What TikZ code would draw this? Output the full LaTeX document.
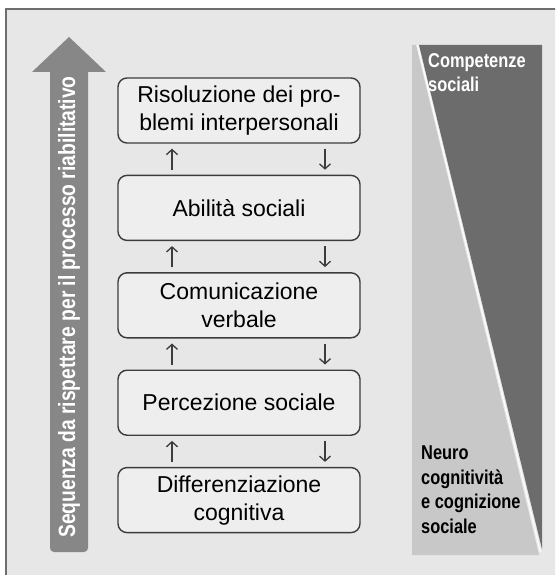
\documentclass[tikz,border=0pt]{standalone}
\usepackage{fontspec}
\setmainfont{Liberation Sans}
\newfontfamily\narrowfont[FakeStretch=0.82]{Liberation Sans}
\usetikzlibrary{arrows.meta, positioning}

\definecolor{framegray}{HTML}{6E6E6E}
\definecolor{panelgray}{HTML}{E7E7E7}
\definecolor{boxfill}{HTML}{EEEEEE}
\definecolor{boxline}{HTML}{3C3C3C}
\definecolor{arrowgray}{HTML}{878787}
\definecolor{wedgedark}{HTML}{6C6C6C}
\definecolor{wedgelight}{HTML}{C8C8C8}

\begin{document}
\begin{tikzpicture}[
  x=1pt, y=-1pt, % coordinate in pixel, y verso il basso
  stage/.style={draw=boxline, line width=1.4pt, fill=boxfill, rounded corners=9pt,
    minimum width=242pt, minimum height=65pt, align=center, inner sep=0pt,
    font=\fontsize{23}{28}\selectfont},
  updown/.style={boxline, line width=1.3pt, -{Straight Barb[length=5pt, width=11pt]}},
  wedgetext/.style={anchor=north west, align=left, inner sep=0pt,
    font=\narrowfont\bfseries\fontsize{20}{24.5}\selectfont}
]
  \useasboundingbox (0,0) rectangle (555,575);
  \clip (0,0) rectangle (555,575);
  \fill[white] (0,0) rectangle (555,575);

  % cornice
  \draw[framegray, line width=2.2pt, fill=panelgray] (6,9) rectangle (570,590);

  % freccia verticale
  \fill[arrowgray, rounded corners=4pt] (50,60) rectangle (88,552);
  \fill[arrowgray] (32,72) -- (69,37) -- (106,72) -- cycle;
  \node[rotate=90, text=white, inner sep=0pt,
        font=\narrowfont\bfseries\fontsize{23.5}{26}\selectfont] (seqtxt) at (69,307)
    {Sequenza da rispettare per il processo riabilitativo};

  % cuneo a destra
  \fill[wedgelight] (412,45) -- (416,45) -- (539,555) -- (412,555) -- cycle;
  \fill[wedgedark] (419,45) -- (542,45) -- (542,549) -- cycle;
  \draw[white!85!panelgray, line width=1.5pt] (417.5,45) -- (540.5,552);
  \node[wedgetext, text=white] (comp) at (428,53) {Competenze\\sociali};
  \node[wedgetext] (neuro) at (421,446) {Neuro\\cognitività\\e cognizione\\sociale};

  % livelli (dall'alto)
  \node[stage] (b1) at (239,110.5) {Risoluzione dei pro-\\blemi interpersonali};
  \node[stage, below=31pt of b1] (b2) {Abilità sociali};
  \node[stage, below=31pt of b2] (b3) {Comunicazione\\verbale};
  \node[stage, below=31pt of b3] (b4) {Percezione sociale};
  \node[stage, below=31pt of b4] (b5) {Differenziazione\\cognitiva};

  % frecce su e giù tra i livelli
  \foreach \lo/\hi in {b2/b1, b3/b2, b4/b3, b5/b4} {
    \draw[updown] ([xshift=-67pt, yshift=5pt]\lo.north) -- ([xshift=-67pt, yshift=-5pt]\hi.south);
    \draw[updown] ([xshift=86pt, yshift=-5pt]\hi.south) -- ([xshift=86pt, yshift=5pt]\lo.north);
  }
\end{tikzpicture}
\end{document}
